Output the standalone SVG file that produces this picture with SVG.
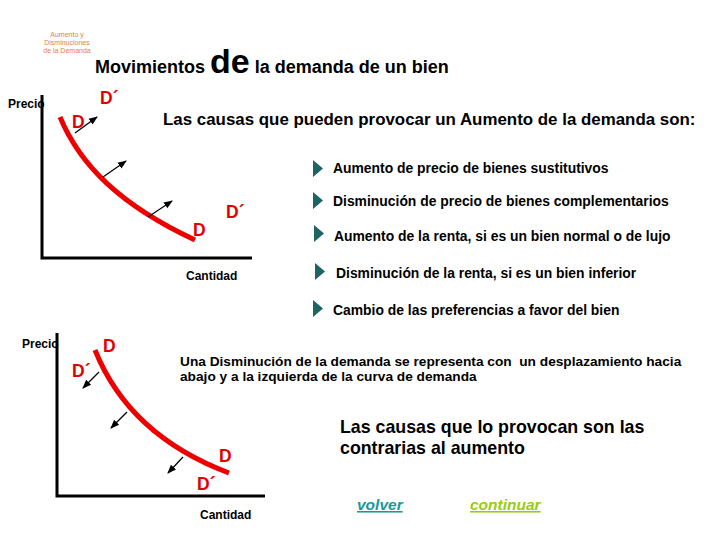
<svg xmlns="http://www.w3.org/2000/svg" width="720" height="540" viewBox="0 0 720 540">
<defs>
<marker id="ah" markerWidth="9" markerHeight="9" refX="8" refY="4.5" orient="auto" markerUnits="userSpaceOnUse"><path d="M0,1 L9,4.5 L0,8 Z" fill="#000"/></marker>
<path id="bul" d="M0,0 L10,8.5 L0,17 Z" fill="#1f6464"/>
</defs>
<style>
text{font-family:"Liberation Sans",Arial,sans-serif;font-weight:bold;fill:#000}
.ax{stroke:#000;stroke-width:3;fill:none}
.cv{stroke:#ee0000;stroke-width:5;fill:none;stroke-linecap:butt}
.ar{stroke:#000;stroke-width:1.2;fill:none;marker-end:url(#ah)}
.lb{fill:#e00000;font-size:17.5px}
.it{font-size:13.9px}
.ax-t{font-size:12px}
.sm{font-weight:normal;fill:#e8803a;font-size:7px}
.lk{font-size:15.5px;font-style:italic;text-decoration:underline}
</style>
<rect width="720" height="540" fill="#fff"/>
<g id="note">
<text class="sm" x="67" y="37" text-anchor="middle">Aumento y</text>
<text class="sm" x="67" y="45" text-anchor="middle">Disminuciones</text>
<text class="sm" x="67" y="53" text-anchor="middle">de la Demanda</text>
</g>
<g id="title"><text x="95" y="73" font-size="18">Movimientos <tspan font-size="34">de</tspan> la demanda de un bien</text></g>
<g id="graph-top">
<path class="ax" d="M42,95 V258 H252"/>
<text class="ax-t" x="8" y="108">Precio</text>
<text class="ax-t" x="186" y="280">Cantidad</text>
<path class="cv" d="M60,117 C80,165 120,205 195,240"/>
<text class="lb" x="100" y="104">D´</text>
<text class="lb" x="72" y="128">D</text>
<text class="lb" x="226" y="218">D´</text>
<text class="lb" x="193" y="236">D</text>
</g>
<g id="graph-bottom">
<path class="ax" d="M57,333 V496 H265"/>
<text class="ax-t" x="22" y="348">Precio</text>
<text class="ax-t" x="200" y="519">Cantidad</text>
<path class="cv" d="M95,350 C115,400 155,445 229,473"/>
<text class="lb" x="103" y="352">D</text>
<text class="lb" x="72" y="377">D´</text>
<text class="lb" x="219" y="462">D</text>
<text class="lb" x="197" y="490">D´</text>
</g>
<g id="connectors">
<line class="ar" x1="75" y1="133" x2="97" y2="117"/>
<line class="ar" x1="103" y1="177" x2="126" y2="161"/>
<line class="ar" x1="148" y1="217" x2="172" y2="201"/>
<line class="ar" x1="99" y1="372" x2="83" y2="388"/>
<line class="ar" x1="127" y1="412" x2="111" y2="428"/>
<line class="ar" x1="183" y1="457" x2="168" y2="473"/>
</g>
<g id="causes">
<text x="163" y="125" font-size="16.9">Las causas que pueden provocar un Aumento de la demanda son:</text>
<use href="#bul" x="313" y="160"/>
<text class="it" x="333" y="173">Aumento de precio de bienes sustitutivos</text>
<use href="#bul" x="313" y="192"/>
<text class="it" x="333" y="206">Disminución de precio de bienes complementarios</text>
<use href="#bul" x="314" y="225"/>
<text class="it" x="334" y="241">Aumento de la renta, si es un bien normal o de lujo</text>
<use href="#bul" x="315" y="263"/>
<text class="it" x="336" y="278">Disminución de la renta, si es un bien inferior</text>
<use href="#bul" x="313" y="300"/>
<text class="it" x="333" y="315">Cambio de las preferencias a favor del bien</text>
</g>
<g id="decrease">
<text x="180" y="366" font-size="13.7">Una Disminución de la demanda se representa con&#160; un desplazamiento hacia</text>
<text x="180" y="381" font-size="13.7">abajo y a la izquierda de la curva de demanda</text>
<text x="340" y="433" font-size="17.8">Las causas que lo provocan son las</text>
<text x="340" y="454" font-size="17.8">contrarias al aumento</text>
</g>
<g id="links">
<text class="lk" x="357" y="510" style="fill:#139a9a">volver</text>
<text class="lk" x="470" y="510" style="fill:#99cc11">continuar</text>
</g>
</svg>
